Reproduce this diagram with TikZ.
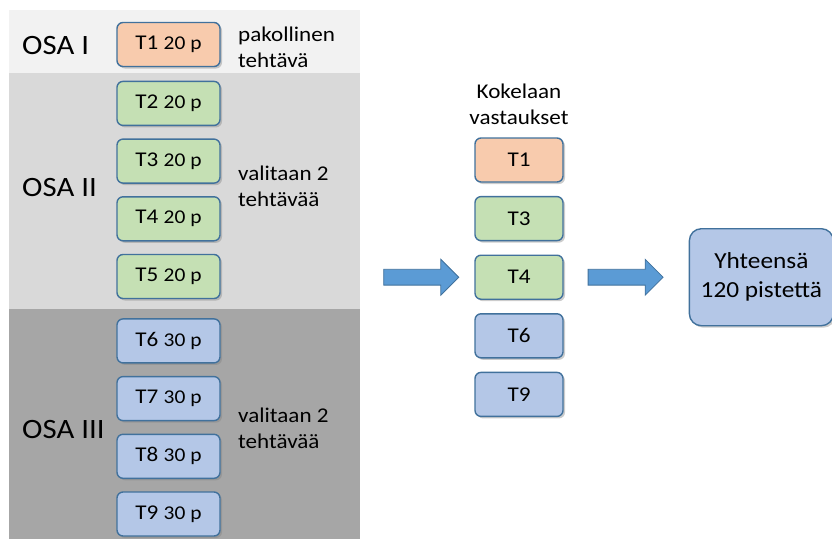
\documentclass[tikz,border=0pt]{standalone}
\usepackage{fontspec}
\setmainfont{Carlito}[FakeStretch=1.1]
\usepackage{xcolor}
\usetikzlibrary{positioning, shapes.arrows, shadows}

\definecolor{osaone}{HTML}{F2F2F2}
\definecolor{osatwo}{HTML}{D9D9D9}
\definecolor{osathree}{HTML}{A6A6A6}
\definecolor{taskorange}{HTML}{F8CBAD}
\definecolor{taskgreen}{HTML}{C5E0B4}
\definecolor{taskblue}{HTML}{B4C7E7}
\definecolor{edgeblue}{HTML}{41719C}
\definecolor{arrowblue}{HTML}{5B9BD5}

\newcommand{\pisteet}[1]{{\fontsize{19.5}{21}\selectfont #1 p}}

\begin{document}
\begin{tikzpicture}[
    x=1pt, y=-1pt,
    node distance=12.3pt and 15pt,
    task/.style={
        rectangle,
        draw=edgeblue,
        line width=1.4pt,
        rounded corners=6pt,
        minimum width=103pt,
        minimum height=44pt,
        inner sep=0pt,
        font=\fontsize{21}{23}\selectfont,
        drop shadow={opacity=0.4, shadow xshift=2pt, shadow yshift=-2pt}
    },
    answer/.style={task, minimum width=88pt},
    osalabel/.style={anchor=west, inner sep=0pt, font=\fontsize{28}{30}\selectfont},
    sidenote/.style={anchor=west, inner sep=0pt, align=left, font=\fontsize{21}{26}\selectfont},
    bigarrow/.style={
        single arrow,
        draw=edgeblue,
        fill=arrowblue,
        line width=0.8pt,
        minimum height=75pt,
        inner xsep=0pt,
        inner ysep=7.5pt,
        single arrow head extend=10pt
    }
]
  \useasboundingbox (0,0) rectangle (832,539);

  \fill[osaone] (9,10) rectangle (360,73);
  \fill[osatwo] (9,73) rectangle (360,309);
  \fill[osathree] (9,309) rectangle (360,539);

  \node[osalabel] (osa1) at (22,46) {OSA I};
  \node[osalabel] (osa2) at (22,188) {OSA II};
  \node[osalabel] (osa3) at (22,429) {OSA III};

  \node[task, fill=taskorange] (t1) at (168.5,44.5) {T1 \pisteet{20}};
  \node[task, fill=taskgreen, below=13.5pt of t1] (t2) {T2 \pisteet{20}};
  \node[task, fill=taskgreen, below=of t2] (t3) {T3 \pisteet{20}};
  \node[task, fill=taskgreen, below=of t3] (t4) {T4 \pisteet{20}};
  \node[task, fill=taskgreen, below=of t4] (t5) {T5 \pisteet{20}};
  \node[task, fill=taskblue, below=19pt of t5] (t6) {T6 \pisteet{30}};
  \node[task, fill=taskblue, below=of t6] (t7) {T7 \pisteet{30}};
  \node[task, fill=taskblue, below=of t7] (t8) {T8 \pisteet{30}};
  \node[task, fill=taskblue, below=of t8] (t9) {T9 \pisteet{30}};

  \node[sidenote] (pakollinen) at (238,47) {pakollinen\\tehtävä};
  \node[sidenote] (valinta2) at (238,186) {valitaan 2\\tehtävää};
  \node[sidenote] (valinta3) at (238,428) {valitaan 2\\tehtävää};

  \node[answer, fill=taskorange] (v1) at (519,160) {T1};
  \node[answer, fill=taskgreen, below=13.2pt of v1] (v3) {T3};
  \node[answer, fill=taskgreen, below=13.2pt of v3] (v4) {T4};
  \node[answer, fill=taskblue, below=13.2pt of v4] (v6) {T6};
  \node[answer, fill=taskblue, below=13.2pt of v6] (v9) {T9};
  \node[align=center, inner sep=0pt, font=\fontsize{21}{26}\selectfont, above=12pt of v1] (kokelaan) {Kokelaan\\vastaukset};

  \node[bigarrow, left=15pt of v4] (nuoli1) {};
  \node[bigarrow, right=24pt of v4] (nuoli2) {};

  \node[task, fill=taskblue, rounded corners=12pt, minimum width=144pt, minimum height=97pt,
        align=center, font=\fontsize{23}{29}\selectfont, right=25pt of nuoli2] (yhteensa)
        {Yhteensä\\120 pistettä};
\end{tikzpicture}
\end{document}
